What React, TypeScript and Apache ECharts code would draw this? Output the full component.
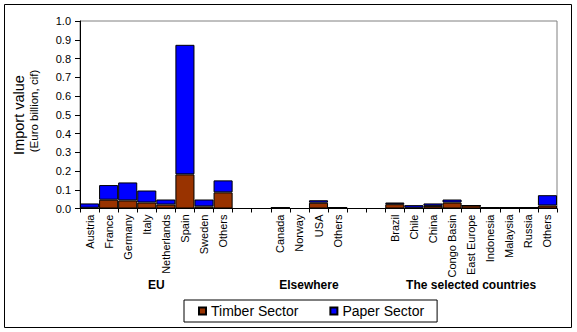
import React, { useEffect, useRef } from "react";
import * as echarts from "echarts";

const categories = [
  "Austria", "France", "Germany", "Italy", "Netherlands", "Spain", "Sweden", "Others",
  "", "",
  "Canada", "Norway", "USA", "Others",
  "", "",
  "Brazil", "Chile", "China", "Congo Basin", "East Europe", "Indonesia", "Malaysia", "Russia", "Others",
];

const timber = [
  0.004, 0.047, 0.043, 0.032, 0.021, 0.182, 0.011, 0.086,
  null, null,
  0.004, 0, 0.031, 0.005,
  null, null,
  0.023, 0.004, 0.014, 0.032, 0.016, 0.005, 0.005, 0.005, 0.016,
];

const paper = [
  0.023, 0.078, 0.096, 0.064, 0.027, 0.691, 0.037, 0.064,
  null, null,
  0.001, 0, 0.013, 0,
  null, null,
  0.009, 0.014, 0.013, 0.016, 0, 0, 0, 0, 0.055,
];

// group labels placed at the centre (in category units) of each group
const groupNames = ["EU", "Elsewhere", "The selected countries"];
const groupCenters = [4, 12, 20.5];

const yTicks = { min: 0, max: 1, interval: 0.1 };

const FONT = "Arial, 'Liberation Sans', sans-serif";

export default function App() {
  const ref = useRef<HTMLDivElement>(null);
  useEffect(() => {
    const chart = echarts.init(ref.current!, null, { renderer: "svg" });
    chart.setOption({
      animation: false,
      backgroundColor: "#fff",
      textStyle: { fontFamily: FONT, color: "#000" },
      grid: {
        left: 80,
        top: 21,
        right: 20,
        bottom: 123.5,
        show: true,
        borderColor: "#808080",
        borderWidth: 1,
        backgroundColor: "transparent",
      },
      legend: {
        left: 184,
        top: 300,
        padding: [4, 13, 4, 14],
        itemGap: 31,
        itemWidth: 7,
        itemHeight: 7,
        borderColor: "#000",
        borderWidth: 1,
        icon: "rect",
        textStyle: { fontFamily: FONT, fontSize: 14, color: "#000", padding: [0, 0, 0, 0] },
        data: ["Timber Sector", "Paper Sector"],
      },
      xAxis: [
        {
          type: "category",
          data: categories,
          boundaryGap: true,
          axisLine: { lineStyle: { color: "#000", width: 1 } },
          axisTick: { show: true, length: 4, interval: 0, lineStyle: { color: "#000" } },
          axisLabel: {
            interval: 0,
            rotate: 90,
            fontSize: 11,
            fontFamily: FONT,
            color: "#000",
            margin: 6,
          },
        },
        {
          type: "value",
          position: "bottom",
          min: 0,
          max: categories.length,
          interval: 0.5,
          axisLine: { show: false },
          axisTick: { show: false },
          splitLine: { show: false },
          axisLabel: {
            margin: 70,
            fontSize: 12,
            fontWeight: "bold",
            fontFamily: FONT,
            color: "#000",
            showMinLabel: true,
            showMaxLabel: true,
            formatter: (v: number) => {
              const i = groupCenters.findIndex((c) => Math.abs(c - v) < 1e-6);
              return i >= 0 ? groupNames[i] : "";
            },
          },
        },
      ],
      yAxis: {
        type: "value",
        min: yTicks.min,
        max: yTicks.max,
        interval: yTicks.interval,
        axisLine: { show: true, lineStyle: { color: "#000" } },
        axisTick: { show: true, length: 5, lineStyle: { color: "#000" } },
        splitLine: { show: false },
        axisLabel: {
          fontSize: 11,
          fontFamily: FONT,
          color: "#000",
          margin: 9,
          formatter: (v: number) => v.toFixed(1),
        },
      },
      series: [
        {
          name: "Timber Sector",
          type: "bar",
          stack: "total",
          barCategoryGap: "0%",
          data: timber,
          itemStyle: { color: "#993300", borderColor: "#000", borderWidth: 1 },
        },
        {
          name: "Paper Sector",
          type: "bar",
          stack: "total",
          barCategoryGap: "0%",
          data: paper,
          itemStyle: { color: "#0000FF", borderColor: "#000", borderWidth: 1 },
        },
      ],
      graphic: [
        {
          type: "rect",
          shape: { x: 4.5, y: 4.5, width: 567, height: 323 },
          style: { fill: "none", stroke: "#000", lineWidth: 1 },
          silent: true,
        },
        {
          type: "text",
          x: 19,
          y: 115,
          rotation: Math.PI / 2,
          style: {
            text: "Import value",
            fontSize: 14.5,
            fontFamily: FONT,
            fill: "#000",
            textAlign: "center",
            textVerticalAlign: "middle",
          },
        },
        {
          type: "text",
          x: 34,
          y: 111,
          rotation: Math.PI / 2,
          style: {
            text: "(Euro billion, cif)",
            fontSize: 11.5,
            fontFamily: FONT,
            fill: "#000",
            textAlign: "center",
            textVerticalAlign: "middle",
          },
        },
      ],
    });
    return () => chart.dispose();
  }, []);
  return (
    <div
      ref={ref}
      style={{ position: "fixed", left: 0, top: 0, width: 577, height: 332 }}
    />
  );
}
